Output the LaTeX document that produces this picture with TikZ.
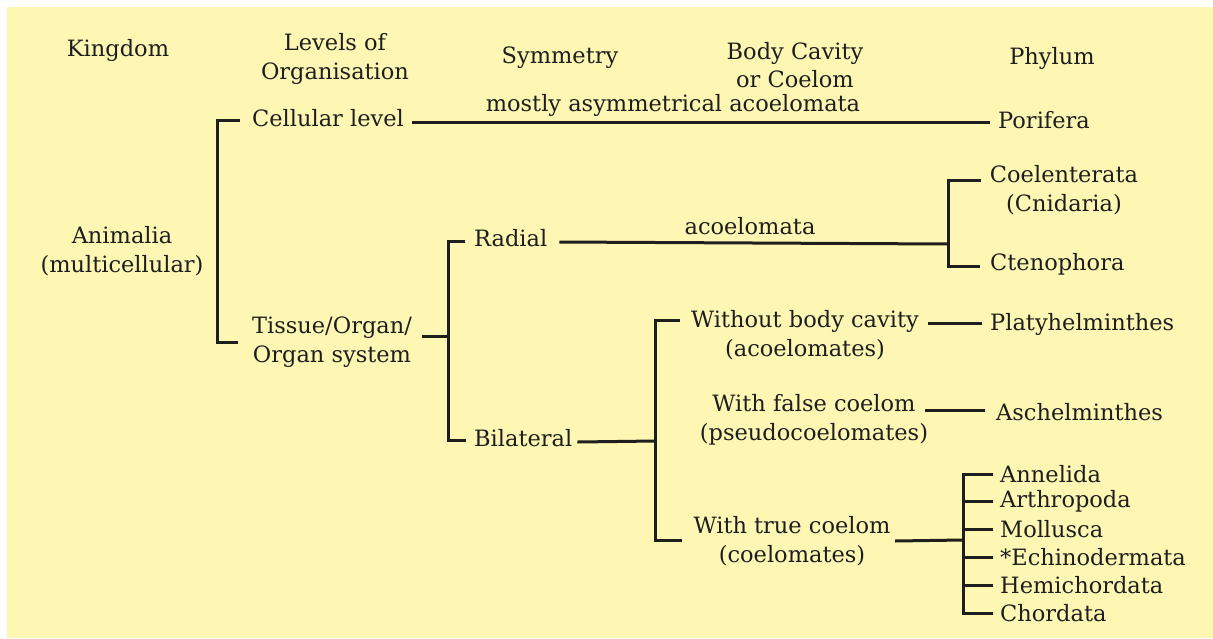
\documentclass[tikz,border=0pt]{standalone}
\usepackage{fontspec}
\setmainfont{DejaVu Serif}
\usetikzlibrary{calc}
\definecolor{bg}{HTML}{FEF7B4}
\definecolor{ink}{HTML}{1E1E1E}
\begin{document}
\begin{tikzpicture}[x=1pt,y=-1pt,
  txt/.style={inner sep=0pt,text=ink,font=\fontsize{22.5}{28.5}\selectfont,align=center},
  lft/.style={txt,anchor=west},
  ln/.style={draw=ink,line width=3pt}]
\useasboundingbox (0,0) rectangle (1213,638);
\fill[bg] (7,7) rectangle (1213,638);
% headers
\node[txt] (hK) at (118,50) {Kingdom};
\node[txt] (hL) at (335,59) {Levels of\\Organisation};
\node[txt] (hS) at (560,58) {Symmetry};
\node[txt] (hB) at (795,65) {Body Cavity\\or Coelom};
\node[txt] (hP) at (1052,58) {Phylum};
% nodes
\node[txt] (anim) at (122,251) {Animalia\\(multicellular)};
\node[lft] (cell) at (252,118) {Cellular level};
\node[txt] (mostly) at (673,105) {mostly asymmetrical acoelomata};
\node[lft] (por) at (998,120) {Porifera};
\node[txt] (tis) at (332,342) {Tissue/Organ/\\Organ system};
\node[lft] (rad) at (474,238) {Radial};
\node[txt] (acoel) at (750,226) {acoelomata};
\node[txt] (coel) at (1064,190) {Coelenterata\\(Cnidaria)};
\node[lft] (cten) at (990,264) {Ctenophora};
\node[lft] (bil) at (474,438) {Bilateral};
\node[txt] (wo) at (805,335) {Without body cavity\\(acoelomates)};
\node[lft] (platy) at (990,324) {Platyhelminthes};
\node[txt] (wf) at (814,420) {With false coelom\\(pseudocoelomates)};
\node[lft] (asch) at (996,412) {Aschelminthes};
\node[txt] (wt) at (792,541) {With true coelom\\(coelomates)};
\node[lft] (ann) at (1000,474) {Annelida};
\node[lft] (art) at (1000,501) {Arthropoda};
\node[lft] (mol) at (1000,529) {Mollusca};
\node[lft] (ech) at (1000,557) {*Echinodermata};
\node[lft] (hem) at (1000,585) {Hemichordata};
\node[lft] (cho) at (1000,613) {Chordata};
% connectors
\coordinate (b1) at (217,120);
\coordinate (b2) at (217,342);
\draw[ln] ($(cell.west)+(-12,2)$) -- (b1) -- (b2) -- ++(21,0);
\draw[ln] ($(cell.east)+(8,4)$) -- ($(por.west)+(-8,2)$);
\coordinate (t1) at (448,336);
\draw[ln] (422,336) -- (t1);
\draw[ln] ($(rad.west)+(-9,3)$) -- (448,241) -- (448,440) -- ($(bil.west)+(-8,2)$);
\draw[ln] ($(rad.east)+(12,4)$) -- (948,244);
\coordinate (c1) at (981,180);
\draw[ln] (c1) -- (948,180) -- (948,266) -- ($(cten.west)+(-10,2)$);
\draw[ln] ($(bil.east)+(5,4)$) -- (655,441);
\draw[ln] (680,320) -- (655,320) -- (655,540) -- (682,540);
\draw[ln] (928,323) -- ($(platy.west)+(-8,-1)$);
\draw[ln] (925,410) -- (985,410);
\draw[ln] (895,541) -- (963,540);
\draw[ln] ($(ann.west)+(-7,0)$) -- (963,474) -- (963,613) -- ($(cho.west)+(-7,0)$);
\foreach \nn in {art,mol,ech,hem} \draw[ln] (963,0 |- \nn.west) -- ($(\nn.west)+(-7,0)$);
\end{tikzpicture}
\end{document}
